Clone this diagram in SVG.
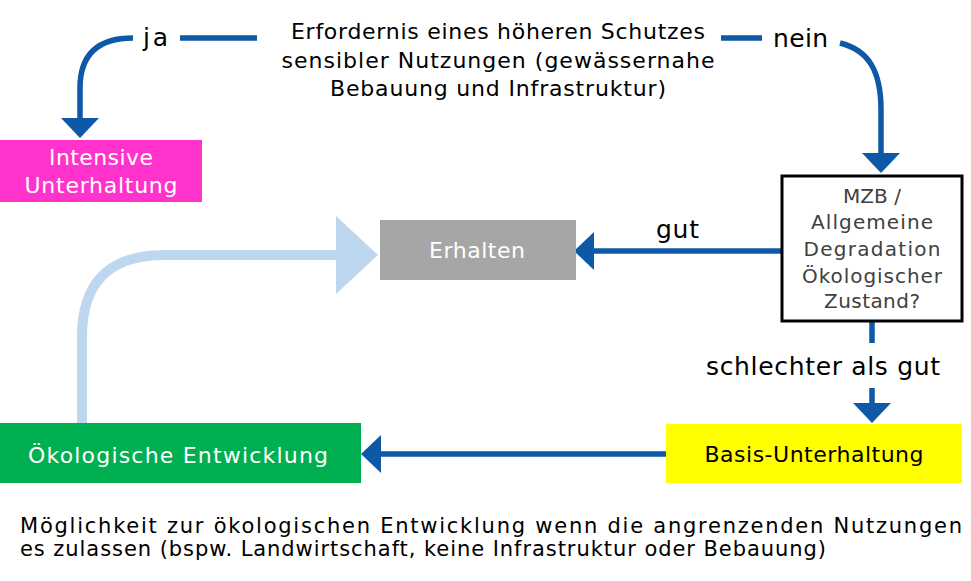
<svg xmlns="http://www.w3.org/2000/svg" width="971" height="581" viewBox="0 0 971 581">
<style>
text{font-family:"DejaVu Sans","Liberation Sans",sans-serif;}
.t{font-size:22px;fill:#000;text-anchor:middle;}
.lbl{font-size:25px;fill:#000;}
.box{font-size:22px;text-anchor:middle;}
.w{fill:#fff;}
.k{fill:#000;}
.mz{font-size:20px;fill:#404040;text-anchor:middle;}
.c{fill:none;stroke:#0D59A8;stroke-width:5.5;}
.lb{fill:none;stroke:#BDD7EE;stroke-width:10;}
.note{font-size:21px;fill:#000;}
</style>
<defs>
<marker id="ah" markerUnits="userSpaceOnUse" markerWidth="21" markerHeight="40" refX="0" refY="19" orient="auto" overflow="visible">
<path d="M0,0 L20,19 L0,38 Z" fill="#0D59A8"/>
</marker>
</defs>
<rect width="971" height="581" fill="#fff"/>

<g id="question">
<text class="t" x="498" y="39" textLength="414" lengthAdjust="spacing">Erfordernis eines höheren Schutzes</text>
<text class="t" x="498" y="68" textLength="433" lengthAdjust="spacing">sensibler Nutzungen (gewässernahe</text>
<text class="t" x="498" y="96" textLength="336" lengthAdjust="spacing">Bebauung und Infrastruktur)</text>
</g>

<g id="connectors">
<path class="c" d="M180,38 L257,38"/>
<path class="c" d="M721,38 L762,38"/>
<path class="c" d="M133,38 Q80,38 80,88 L80,118" marker-end="url(#ah)"/>
<path class="c" d="M840,43 C868,50 881,70 881,110 L881,153" marker-end="url(#ah)"/>
<path class="c" d="M781,251 L594,251" marker-end="url(#ah)"/>
<path class="c" d="M872,322 L872,343"/>
<path class="c" d="M872,388 L872,403" marker-end="url(#ah)"/>
<path class="c" d="M666,454 L381,454" marker-end="url(#ah)"/>
<path class="lb" d="M82,423 L82,337 Q82,255 164,255 L337,255"/>
<polygon points="336,216 378,255 336,294" fill="#BDD7EE"/>
<text class="lbl" x="143" y="46" textLength="25" lengthAdjust="spacing">ja</text>
<text class="lbl" x="773" y="47" textLength="55" lengthAdjust="spacing">nein</text>
<text class="lbl" x="656" y="238" textLength="43" lengthAdjust="spacing">gut</text>
<text class="lbl" x="706" y="375" textLength="234" lengthAdjust="spacing">schlechter als gut</text>
</g>

<g id="intensive">
<rect x="0" y="140" width="202" height="62" fill="#FF33CC"/>
<text class="box w" x="101" y="165" textLength="104" lengthAdjust="spacing">Intensive</text>
<text class="box w" x="101" y="193" textLength="153" lengthAdjust="spacing">Unterhaltung</text>
</g>

<g id="mzb">
<rect x="782" y="176" width="180" height="145" fill="#fff" stroke="#000" stroke-width="3"/>
<text class="mz" x="872" y="203" textLength="58" lengthAdjust="spacing">MZB /</text>
<text class="mz" x="872" y="229" textLength="122" lengthAdjust="spacing">Allgemeine</text>
<text class="mz" x="872" y="256" textLength="137" lengthAdjust="spacing">Degradation</text>
<text class="mz" x="872" y="283" textLength="140" lengthAdjust="spacing">Ökologischer</text>
<text class="mz" x="872" y="308" textLength="96" lengthAdjust="spacing">Zustand?</text>
</g>

<g id="erhalten">
<rect x="380" y="220" width="196" height="60" fill="#A6A6A6"/>
<text class="box w" x="477" y="258" textLength="96" lengthAdjust="spacing">Erhalten</text>
</g>

<g id="oekologische-entwicklung">
<rect x="0" y="423" width="361" height="60" fill="#00B050"/>
<text class="box w" x="178" y="463" textLength="300" lengthAdjust="spacing">Ökologische Entwicklung</text>
</g>

<g id="basis-unterhaltung">
<rect x="666" y="424" width="296" height="59" fill="#FFFF00"/>
<text class="box k" x="814" y="462" textLength="219" lengthAdjust="spacing">Basis-Unterhaltung</text>
</g>

<g id="note">
<text class="note" x="20" y="533" textLength="942" lengthAdjust="spacing">Möglichkeit zur ökologischen Entwicklung wenn die angrenzenden Nutzungen</text>
<text class="note" x="20" y="556" textLength="806" lengthAdjust="spacing">es zulassen (bspw. Landwirtschaft, keine Infrastruktur oder Bebauung)</text>
</g>
</svg>
